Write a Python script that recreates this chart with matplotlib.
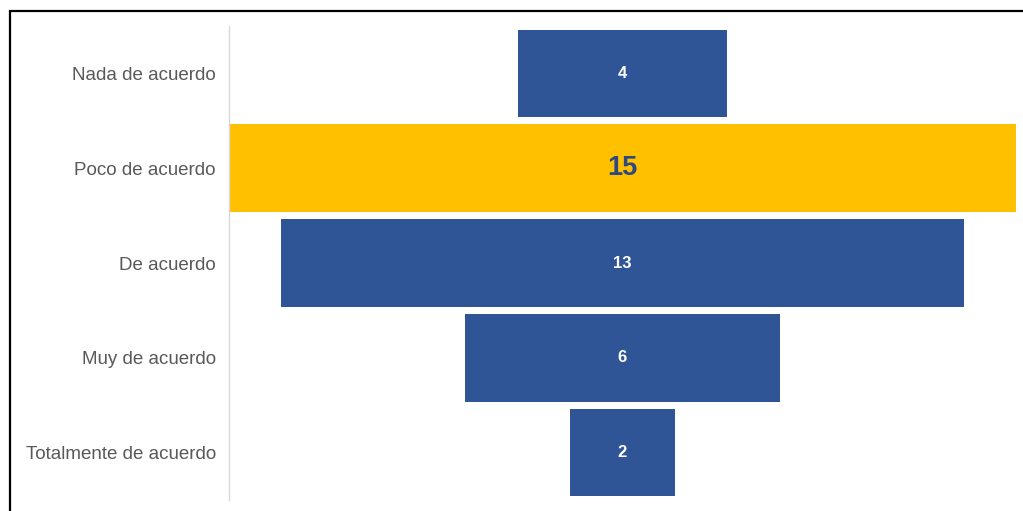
import matplotlib.pyplot as plt
from matplotlib.patches import Rectangle

# Respuestas por nivel de acuerdo
categorias = ["Nada de acuerdo", "Poco de acuerdo", "De acuerdo",
              "Muy de acuerdo", "Totalmente de acuerdo"]
valores = [4, 15, 13, 6, 2]

azul = "#2F5597"
amarillo = "#FFC000"
colores = [amarillo if v == max(valores) else azul for v in valores]

plt.rcParams['font.family'] = ['Liberation Sans', 'DejaVu Sans']

W, H = 1023, 511
fig = plt.figure(figsize=(W / 100, H / 100), dpi=100)
ax = fig.add_axes([229 / W, 1 - 500 / H, 787 / W, 474 / H])

pos = list(range(len(categorias)))
# barras centradas para formar el embudo
ax.barh(pos, valores, left=[-v / 2 for v in valores], height=0.925,
        color=colores)

for y, v in zip(pos, valores):
    if v == max(valores):
        ax.text(0, y, str(v), ha='center', va='center', color="#2E4A7D",
                fontsize=19.5, fontweight='bold')
    else:
        ax.text(0, y, str(v), ha='center', va='center', color='white',
                fontsize=12, fontweight='bold')

ax.set_xlim(-max(valores) / 2, max(valores) / 2)
ax.set_ylim(len(categorias) - 0.5, -0.5)
ax.set_yticks(pos)
ax.set_yticklabels(categorias, fontsize=13.5, color="#595959")
ax.tick_params(axis='y', length=0, pad=9.5)
ax.set_xticks([])
for s in ['top', 'right', 'bottom']:
    ax.spines[s].set_visible(False)
ax.spines['left'].set_color("#D9D9D9")
ax.spines['left'].set_linewidth(1)

# marco negro del recuadro
fig.patches.append(Rectangle((9.5 / W, -0.1), 1.2, 1 - 10.5 / H + 0.1,
                             transform=fig.transFigure, fill=False,
                             edgecolor='black', linewidth=1.6))

fig.savefig("out.png", dpi=100)
